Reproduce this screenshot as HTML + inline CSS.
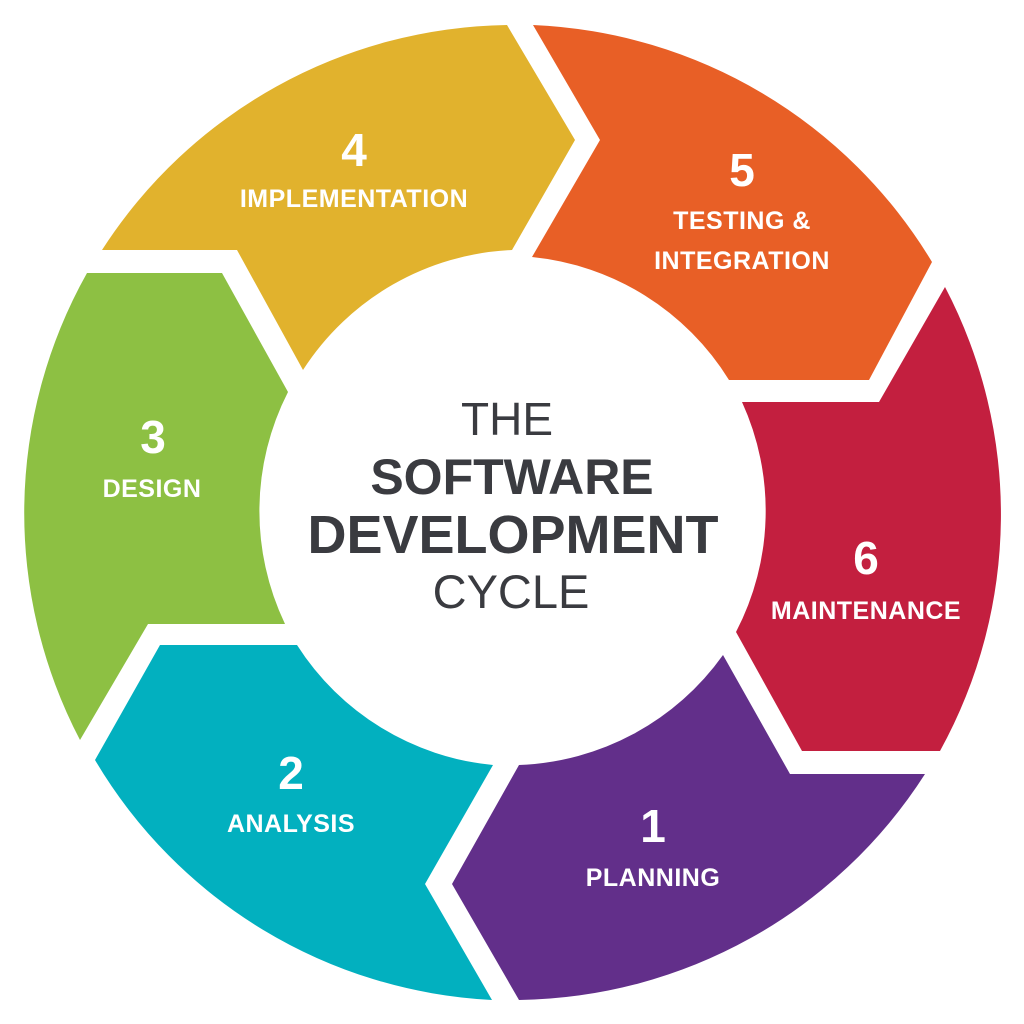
<!DOCTYPE html>
<html><head><style>html,body{margin:0;padding:0;background:#fff}svg{display:block}</style></head>
<body>
<svg width="1024" height="1024" viewBox="0 0 1024 1024" xmlns="http://www.w3.org/2000/svg">
<path fill="#E1B22D" d="M102,250 A490,490 0 0 1 507,25 L575,140 L512,250 A262,262 0 0 0 303,370 L237,250 Z"/>
<path fill="#E85F26" d="M533,25 A490,490 0 0 1 932,262 L869,380 L729,380 A262,262 0 0 0 532,257 L600,140 Z"/>
<path fill="#C31F3F" d="M945,287 A490,490 0 0 1 940,751 L802,751 L736,632 A262,262 0 0 0 742,402 L879,402 Z"/>
<path fill="#622F8A" d="M723,655 L790,774 L925,774 A490,490 0 0 1 519,1000 L452,884 L519,765 A262,262 0 0 0 723,655 Z"/>
<path fill="#02B0BF" d="M160,645 L297,645 A262,262 0 0 0 493,765 L425,884 L492,1000 A490,490 0 0 1 95,760 Z"/>
<path fill="#8DC043" d="M87,273 L222,273 L288,392 A262,262 0 0 0 285,624 L148,624 L80,740 A490,490 0 0 1 87,273 Z"/>
<g font-family="Liberation Sans, sans-serif" fill="#3a3b40" text-anchor="middle">
<text x="507" y="435" font-size="46">THE</text>
<text x="512" y="494" font-size="50" font-weight="bold">SOFTWARE</text>
<text x="513" y="553" font-size="54" font-weight="bold">DEVELOPMENT</text>
<text x="511" y="608" font-size="47">CYCLE</text>
</g>
<g font-family="Liberation Sans, sans-serif" fill="#fff" text-anchor="middle" font-weight="bold">
<text x="354" y="166" font-size="46">4</text>
<text x="354" y="207" font-size="25" letter-spacing="0.5">IMPLEMENTATION</text>
<text x="742" y="186" font-size="46">5</text>
<text x="742" y="229" font-size="25" letter-spacing="0.5">TESTING &amp;</text>
<text x="742" y="269" font-size="25" letter-spacing="0.5">INTEGRATION</text>
<text x="153" y="453" font-size="46">3</text>
<text x="152" y="497" font-size="25" letter-spacing="0.5">DESIGN</text>
<text x="866" y="574" font-size="46">6</text>
<text x="866" y="619" font-size="25" letter-spacing="0.5">MAINTENANCE</text>
<text x="291" y="789" font-size="46">2</text>
<text x="291" y="832" font-size="25" letter-spacing="0.5">ANALYSIS</text>
<text x="653" y="842" font-size="46">1</text>
<text x="653" y="886" font-size="25" letter-spacing="0.5">PLANNING</text>
</g>
</svg>
</body></html>
